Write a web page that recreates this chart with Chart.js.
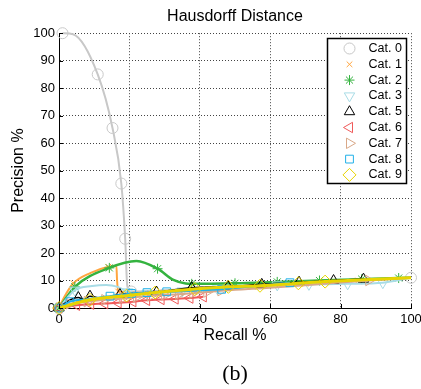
<!DOCTYPE html>
<html>
<head>
<meta charset="utf-8">
<script src="https://cdn.jsdelivr.net/npm/chart.js@4.4.1/dist/chart.umd.min.js"></script>
<style>
body { margin: 0; background: #fff; }
canvas { display: block; }
</style>
</head>
<body>
<canvas id="chart-1" width="421" height="389"></canvas>
<script>

var catNames = ['Cat. 0', 'Cat. 1', 'Cat. 2', 'Cat. 3', 'Cat. 5', 'Cat. 6', 'Cat. 7', 'Cat. 8', 'Cat. 9'];
var xTicks = [0, 20, 40, 60, 80, 100];
var yTicks = [0, 10, 20, 30, 40, 50, 60, 70, 80, 90, 100];

//Recall / precision values, marks = which points carry a marker
var cat0Recall = [1, 4, 11, 15.2, 17.7, 18.8, 19.4, 20.5, 40, 60, 80, 100];
var cat0Precision = [100, 99.6, 85, 65.5, 45.3, 25.2, 8, 6, 7.2, 8.5, 9.8, 11];
var cat0Marks = [0, 2, 3, 4, 5, 7, 11];

var cat1Recall = [0, 1.5, 4.1, 9, 14, 16.3, 16.5, 16.8, 25, 40, 55, 70, 85, 100];
var cat1Precision = [0, 4, 9, 12.8, 15, 15.4, 10, 6, 5.5, 6.5, 7.7, 8.8, 10, 11];
var cat1Marks = [0, 2, 4, 7, 8, 9, 10, 11, 12];

var cat2Recall = [0, 4.5, 14.3, 22, 28, 32.5, 36, 37.7, 50, 62, 74, 86, 96.5, 100];
var cat2Precision = [0, 7.7, 14.6, 17.1, 14.3, 10.2, 8.9, 8.8, 9, 9.5, 10, 10.5, 10.9, 11];
var cat2Marks = [0, 1, 2, 4, 7, 8, 9, 10, 11, 12];

var cat3Recall = [0, 4.5, 9.4, 13.4, 16.7, 19.5, 25, 35, 45, 55, 62, 71, 82, 92, 100];
var cat3Precision = [0, 6.5, 8, 8.4, 7.7, 5.9, 5.3, 6.2, 7, 7.8, 8.4, 8.6, 8.8, 9.2, 11];
var cat3Marks = [0, 1, 5, 6, 7, 8, 10, 11, 12, 13];

var cat5Recall = [0, 2.5, 5.5, 7, 8.8, 12, 17.3, 27.7, 37.7, 48, 57.6, 68.2, 78, 86.5];
var cat5Precision = [0, 2.5, 3.8, 3.1, 4.3, 3.6, 4.9, 5.8, 7.4, 7.8, 8.6, 9.4, 10, 10.5];
var cat5Marks = [0, 2, 4, 6, 7, 8, 9, 10, 11, 12, 13];

var cat6Recall = [0, 5, 9, 13, 16.8, 21, 24.9, 29, 33, 37.2, 41];
var cat6Precision = [0, 1, 1.4, 1.6, 1.9, 2.3, 2.8, 3.1, 3.3, 3.6, 4.1];
var cat6Marks = [0, 1, 2, 3, 4, 5, 6, 7, 8, 9, 10];

var cat7Recall = [0, 3, 8, 13, 18, 22, 26, 30, 34, 38, 42, 46, 55, 65, 77, 88, 100];
var cat7Precision = [0, 1.5, 2.3, 3, 3.5, 4, 4.4, 4.7, 5, 5.4, 5.8, 6.3, 7, 7.8, 9, 10, 11];
var cat7Marks = [0, 1, 2, 3, 4, 5, 6, 7, 8, 9, 10, 11, 15];

var cat8Recall = [0, 3.1, 8, 14.5, 20.6, 25, 30.6, 38, 46.2, 56, 65.6];
var cat8Precision = [0, 2.3, 3.2, 4.3, 5.3, 5.6, 5.9, 6.3, 6.8, 8, 9.2];
var cat8Marks = [0, 1, 3, 4, 5, 6, 8, 10];

var cat9Recall = [0, 8.8, 19.2, 27.3, 38.6, 48.1, 57.1, 68, 75.6, 100];
var cat9Precision = [0, 3, 4.5, 5.6, 6.9, 7.7, 8.1, 9, 9.6, 11];
var cat9Marks = [0, 1, 2, 3, 4, 5, 6, 7, 8];

var allRecall = [cat0Recall, cat1Recall, cat2Recall, cat3Recall, cat5Recall, cat6Recall, cat7Recall, cat8Recall, cat9Recall];
var allPrecision = [cat0Precision, cat1Precision, cat2Precision, cat3Precision, cat5Precision, cat6Precision, cat7Precision, cat8Precision, cat9Precision];
var allMarks = [cat0Marks, cat1Marks, cat2Marks, cat3Marks, cat5Marks, cat6Marks, cat7Marks, cat8Marks, cat9Marks];

//Styles
var colors = ['#c8c8c8', '#ffa640', '#34b33f', '#a8dce6', '#000000', '#f05a5a', '#d9a888', '#20b0e8', '#e8d400'];
var markers = ['circle', 'crossRot', 'star', 'triangle', 'triangle', 'triangle', 'triangle', 'rect', 'rectRot'];
var rotations = [0, 0, 0, 180, 0, 270, 90, 0, 0];
var markerSizes = [5.5, 4, 5, 6, 6, 6, 6, 5.5, 6.5];
var lineWidths = [2, 2, 2.5, 2, 1.5, 2, 2, 2, 3];

var fontName = '"Liberation Sans", Arial, Helvetica, sans-serif';

function makeDatasets() {
	var datasets = [];
	for (var i = 0; i < catNames.length; i++) {
		var points = [];
		var radii = [];
		for (var j = 0; j < allRecall[i].length; j++) {
			points.push({x: allRecall[i][j], y: allPrecision[i][j]});
			radii.push(allMarks[i].indexOf(j) >= 0 ? markerSizes[i] : 0);
		}
		datasets.push({
			label: catNames[i],
			data: points,
			borderColor: colors[i],
			borderWidth: lineWidths[i],
			backgroundColor: 'rgba(0,0,0,0)',
			pointStyle: markers[i],
			pointRotation: rotations[i],
			pointRadius: radii,
			pointBorderColor: colors[i],
			pointBackgroundColor: 'rgba(0,0,0,0)',
			pointBorderWidth: 1,
			cubicInterpolationMode: 'monotone',
			fill: false,
			clip: false,
			//later categories on top like the original
			order: catNames.length - i
		});
	}
	return datasets;
}

//Small ticks pointing into the plot
var innerTicks = {
	id: 'innerTicks',
	afterDraw: function(chart) {
		var ctx = chart.ctx;
		var area = chart.chartArea;
		var xs = chart.scales.x;
		var ys = chart.scales.y;
		ctx.save();
		ctx.strokeStyle = '#000';
		ctx.lineWidth = 1;
		ctx.beginPath();
		for (var i = 0; i < xTicks.length; i++) {
			var px = Math.round(xs.getPixelForValue(xTicks[i])) + 0.5;
			ctx.moveTo(px, area.bottom);
			ctx.lineTo(px, area.bottom - 4);
		}
		for (var k = 0; k < yTicks.length; k++) {
			var py = Math.round(ys.getPixelForValue(yTicks[k])) + 0.5;
			ctx.moveTo(area.left, py);
			ctx.lineTo(area.left + 4, py);
		}
		ctx.stroke();
		ctx.restore();
	}
};

//Boxed legend in the upper right corner of the plot
var legendBox = {
	id: 'legendBox',
	afterDraw: function(chart) {
		var ctx = chart.ctx;
		var area = chart.chartArea;
		var w = 79;
		var h = 145;
		var left = Math.round(area.right - w - 5) + 0.5;
		var top = Math.round(area.top + 5) + 0.5;
		ctx.save();
		ctx.fillStyle = '#fff';
		ctx.fillRect(left, top, w, h);
		ctx.strokeStyle = '#000';
		ctx.lineWidth = 1.5;
		ctx.strokeRect(left, top, w, h);
		ctx.font = '12.5px ' + fontName;
		ctx.textBaseline = 'middle';
		ctx.textAlign = 'left';
		var ds = chart.data.datasets;
		for (var i = 0; i < ds.length; i++) {
			var y = top + 10 + i * 15.8;
			ctx.strokeStyle = ds[i].borderColor;
			ctx.fillStyle = 'rgba(0,0,0,0)';
			ctx.lineWidth = 1;
			Chart.helpers.drawPoint(ctx, {
				pointStyle: ds[i].pointStyle,
				rotation: ds[i].pointRotation,
				radius: markerSizes[i],
				borderWidth: 1
			}, left + 22, y);
			ctx.fillStyle = '#000';
			ctx.fillText(ds[i].label, left + 41, y);
		}
		ctx.restore();
	}
};

var options1 = {
	responsive: false,
	animation: false,
	events: [],
	layout: {
		autoPadding: false,
		padding: {left: 0, right: 10, top: 0, bottom: 0}
	},
	plugins: {
		legend: {
			display: false
		},
		tooltip: {
			enabled: false
		},
		title: {
			display: true,
			fullSize: false,
			text: 'Hausdorff Distance',
			color: '#000',
			font: {family: fontName, size: 16, weight: 'normal'},
			padding: {top: 7, bottom: 7}
		},
		subtitle: {
			display: true,
			fullSize: false,
			position: 'bottom',
			text: '(b)',
			color: '#000',
			font: {family: '"Liberation Serif", "Times New Roman", serif', size: 22, weight: 'normal'},
			padding: {top: 2, bottom: 2}
		}
	},
	scales: {
		x: {
			type: 'linear',
			min: 0,
			max: 100,
			afterBuildTicks: function(scale) {
				scale.ticks = xTicks.map(function(v) { return {value: v}; });
			},
			afterFit: function(scale) {
				scale.height = 50.6;
				//let the last label run past the edge like the original
				scale.paddingLeft = 0;
				scale.paddingRight = 0;
			},
			grid: {
				color: '#444',
				lineWidth: 1,
				drawTicks: false
			},
			border: {
				display: true,
				color: '#000',
				width: 1,
				dash: [1, 2]
			},
			ticks: {
				color: '#000',
				padding: 4,
				maxRotation: 0,
				font: {family: fontName, size: 13}
			},
			title: {
				display: true,
				text: 'Recall %',
				color: '#000',
				font: {family: fontName, size: 16},
				padding: {top: 0, bottom: 13}
			}
		},
		y: {
			type: 'linear',
			min: 0,
			max: 100,
			afterBuildTicks: function(scale) {
				scale.ticks = yTicks.map(function(v) { return {value: v}; });
			},
			afterFit: function(scale) {
				scale.width = 59;
				scale.paddingTop = 0;
				scale.paddingBottom = 0;
			},
			grid: {
				color: '#444',
				lineWidth: 1,
				drawTicks: false
			},
			border: {
				display: true,
				color: '#000',
				width: 1,
				dash: [1, 2]
			},
			ticks: {
				color: '#000',
				padding: 4,
				font: {family: fontName, size: 13}
			},
			title: {
				display: true,
				text: 'Precision %',
				color: '#000',
				font: {family: fontName, size: 16},
				padding: {top: 9, bottom: 0}
			}
		}
	}
};

var graph = new Chart('chart-1', {
	type: 'line',
	data: {datasets: makeDatasets()},
	options: options1,
	plugins: [innerTicks, legendBox]
});

</script>
</body>
</html>
